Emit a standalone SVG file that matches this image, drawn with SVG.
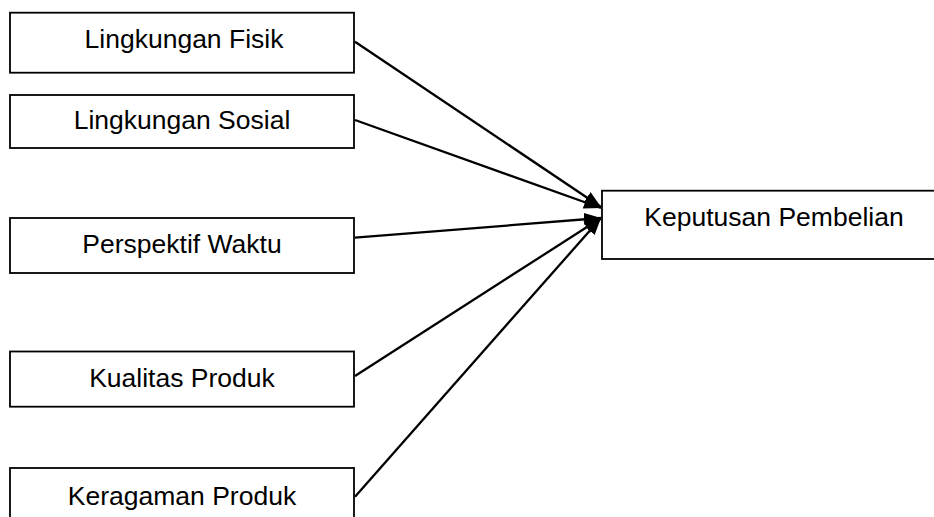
<svg xmlns="http://www.w3.org/2000/svg" width="934" height="517" viewBox="0 0 934 517">
<style>
.box{fill:#fff;stroke:#000;stroke-width:1.8}
.lbl{font-family:"Liberation Sans",Arial,sans-serif;font-size:26.5px;fill:#000;text-anchor:middle}
.edge{stroke:#000;stroke-width:2.3;fill:none;marker-end:url(#arr)}
</style>
<defs>
<marker id="arr" markerUnits="userSpaceOnUse" markerWidth="20" markerHeight="14" refX="17" refY="6.5" orient="auto">
<path d="M0,0 L17,6.5 L0,13 z" fill="#000"/>
</marker>
</defs>
<rect width="934" height="517" fill="#fff"/>
<g id="n1"><rect class="box" x="10" y="12.7" width="344" height="60"/><text class="lbl" x="184" y="48.3">Lingkungan Fisik</text></g>
<g id="n2"><rect class="box" x="10" y="95" width="344" height="53"/><text class="lbl" x="182" y="129">Lingkungan Sosial</text></g>
<g id="n3"><rect class="box" x="10" y="218" width="344" height="55"/><text class="lbl" x="182" y="253.3">Perspektif Waktu</text></g>
<g id="n4"><rect class="box" x="10" y="351.5" width="344" height="55.2"/><text class="lbl" x="182" y="387">Kualitas Produk</text></g>
<g id="n5"><rect class="box" x="10" y="468" width="344" height="60"/><text class="lbl" x="182" y="505">Keragaman Produk</text></g>
<g id="n6"><rect class="box" x="602" y="190.7" width="340" height="68.3"/><text class="lbl" x="774" y="225.7">Keputusan Pembelian</text></g>
<g id="connectors">
<line class="edge" x1="355" y1="41.7" x2="601" y2="207"/>
<line class="edge" x1="355" y1="120" x2="601" y2="208"/>
<line class="edge" x1="355" y1="237.7" x2="601" y2="218"/>
<line class="edge" x1="355" y1="376" x2="601" y2="218"/>
<line class="edge" x1="355" y1="496.7" x2="601" y2="218"/>
</g>
</svg>
